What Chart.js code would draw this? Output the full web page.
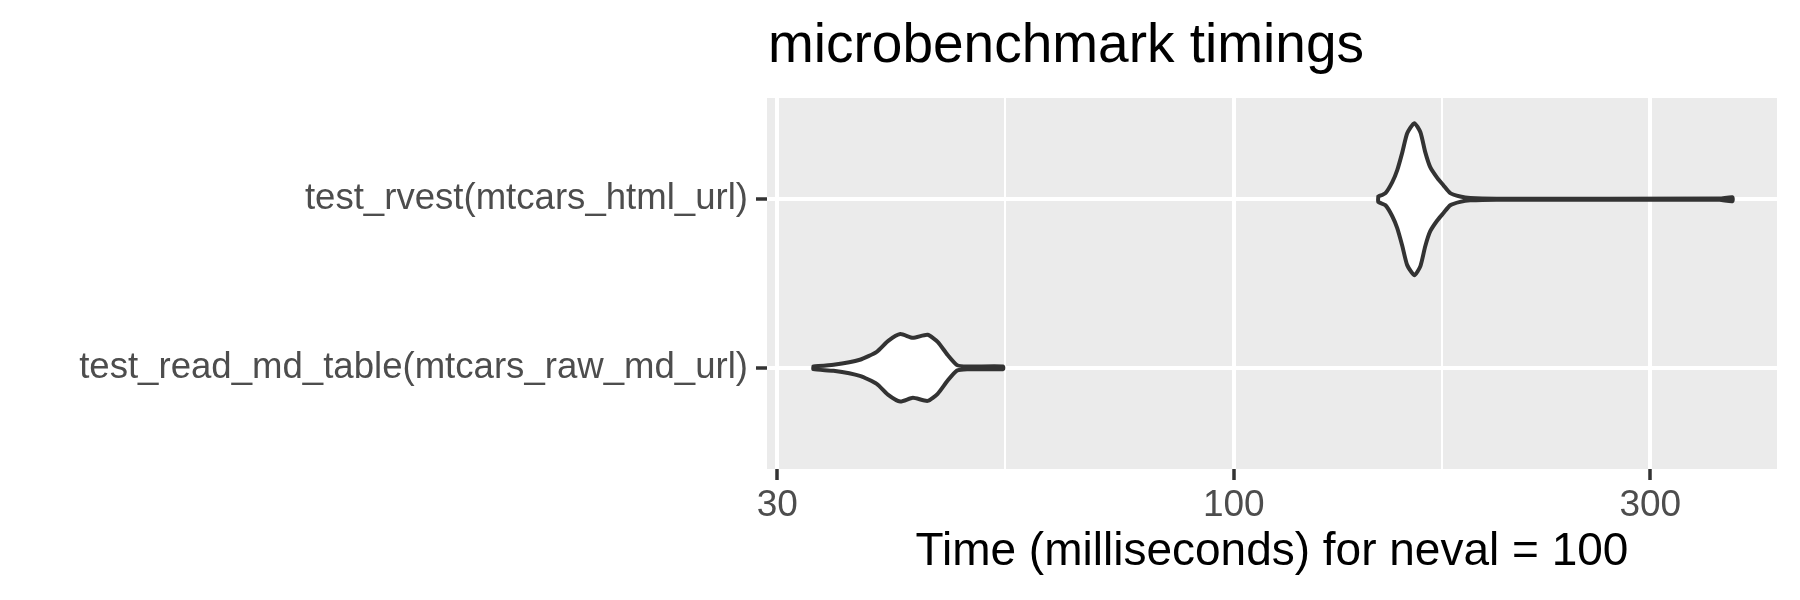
<!DOCTYPE html>
<html>
<head>
<meta charset="utf-8">
<script src="https://cdn.jsdelivr.net/npm/chart.js@4"></script>
<style>
  body{margin:0;background:#fff;}
  canvas{display:block;}
</style>
</head>
<body>
<canvas id="chart" width="1800" height="600"></canvas>
<script>
// categories, bottom to top
const categories = ['test_read_md_table(mtcars_raw_md_url)', 'test_rvest(mtcars_html_url)'];

// violin outlines: time (ms) and half width (in category units)
const mdTimes = [33.0, 34.8, 37.3, 39.0, 40.2, 41.5, 42.9, 44.6, 45.8, 47.0, 48.2, 49.5, 54.4];
const mdHalf  = [0.008, 0.018, 0.048, 0.095, 0.160, 0.200, 0.178, 0.196, 0.154, 0.077, 0.016, 0.008, 0.008];

const rvTimes = [146.4, 149.2, 151.9, 153.9, 156.0, 158.0, 161.0, 163.6, 165.7, 167.9, 171.1, 173.8, 177.0, 181.7, 186.6, 200, 360, 372.4];
const rvHalf  = [0.016, 0.036, 0.101, 0.172, 0.279, 0.391, 0.451, 0.397, 0.279, 0.190, 0.125, 0.083, 0.036, 0.016, 0.007, 0.003, 0.004, 0.012];

// axis
const xMajor = [30, 100, 300];
const xMinor = [54.77, 173.2];
const xMin = 29.2, xMax = 419;

const chartTitle = 'microbenchmark timings';
const xTitle = 'Time (milliseconds) for neval = 100';

// closed outline: top edge left->right, bottom edge back
function violin(times, half, pos){
  const top = times.map((t,i)=>({x:t, y:pos+half[i]}));
  const bot = times.map((t,i)=>({x:t, y:pos-half[i]})).reverse();
  return top.concat(bot, [top[0]]);
}

const panelBg = {
  id:'panelBg',
  beforeDraw(c){
    const a = c.chartArea, ctx = c.ctx;
    ctx.save();
    ctx.fillStyle = '#EBEBEB';
    ctx.fillRect(a.left, a.top, a.right-a.left, a.bottom-a.top);
    ctx.restore();
  }
};

// ggplot puts the title over the panel, not the canvas
const panelTitle = {
  id:'panelTitle',
  afterDraw(c){
    const ctx = c.ctx;
    ctx.save();
    ctx.font = '55px "Liberation Sans", Arial, sans-serif';
    ctx.fillStyle = '#000';
    ctx.textBaseline = 'alphabetic';
    ctx.fillText(chartTitle, c.chartArea.left + 1, 62);
    ctx.restore();
  }
};

const isMajor = v => xMajor.some(m => Math.abs(m - v) < 1e-6);
const font = 'Liberation Sans';

new Chart(document.getElementById('chart'), {
  type:'line',
  data:{
    datasets:[
      {data: violin(mdTimes, mdHalf, 1)},
      {data: violin(rvTimes, rvHalf, 2)}
    ]
  },
  options:{
    responsive:false,
    animation:false,
    layout:{padding:{top:98, right:23, bottom:0, left:0}},
    elements:{
      point:{radius:0},
      line:{borderColor:'#333333', borderWidth:4, backgroundColor:'#FFFFFF',
            fill:'shape', tension:0.2, borderJoinStyle:'round', borderCapStyle:'round'}
    },
    plugins:{legend:{display:false}, tooltip:{enabled:false}},
    scales:{
      x:{
        type:'logarithmic', position:'bottom', min:xMin, max:xMax,
        afterBuildTicks: s => { s.ticks = xMajor.concat(xMinor).sort((a,b)=>a-b).map(v=>({value:v})); },
        afterFit: s => { s.height = 131; },
        border:{display:false},
        grid:{
          color:'#FFFFFF',
          lineWidth: c => (c.tick && isMajor(c.tick.value)) ? 4 : 2,
          tickLength:11, tickWidth:3.5,
          tickColor: c => (c.tick && isMajor(c.tick.value)) ? '#333333' : 'rgba(0,0,0,0)'
        },
        ticks:{
          autoSkip:false, maxRotation:0, padding:4,
          color:'#4D4D4D', font:{family:font, size:37},
          callback: v => isMajor(v) ? String(v) : ''
        },
        title:{display:true, text:xTitle, color:'#000', font:{family:font, size:46},
               padding:{top:0, bottom:20}}
      },
      y:{
        type:'linear', min:0.4, max:2.6,
        afterBuildTicks: s => { s.ticks = categories.map((c,i)=>({value:i+1})); },
        afterFit: s => { s.width = 767; },
        border:{display:false},
        grid:{color:'#FFFFFF', lineWidth:4, tickLength:11, tickWidth:3.5, tickColor:'#333333'},
        ticks:{
          padding:8, color:'#4D4D4D', font:{family:font, size:36.6},
          callback: v => categories[Math.round(v)-1] || ''
        }
      }
    }
  },
  plugins:[panelBg, panelTitle]
});
</script>
</body>
</html>
